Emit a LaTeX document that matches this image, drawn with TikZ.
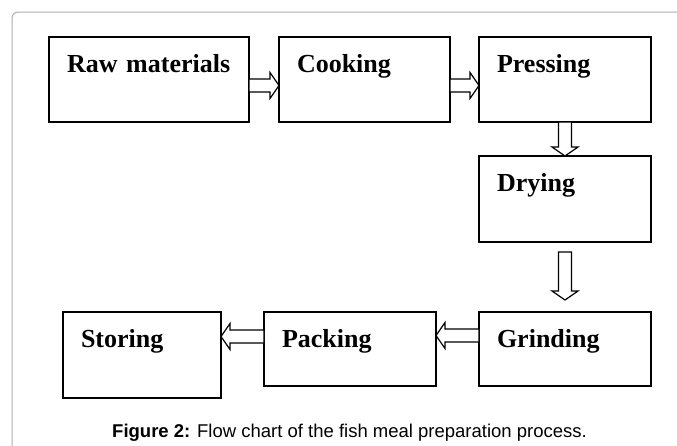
\documentclass[tikz,border=0pt]{standalone}
\usepackage{fontspec}
\setmainfont{Liberation Serif}
\setsansfont{Liberation Sans}
\usepackage{tikz}
\usetikzlibrary{positioning,calc}
\newcommand{\blockarrow}[2]{\path (#1) coordinate (ba-s) (#2)
  coordinate (ba-t) ($(ba-t)!9pt!(ba-s)$) coordinate (ba-h); \draw[hollow]
  ($(ba-s)!6.5pt!90:(ba-t)$) -- ($(ba-h)!6.5pt!-90:(ba-s)$) --
  ($(ba-h)!13pt!-90:(ba-s)$) -- (ba-t) -- ($(ba-h)!13pt!90:(ba-s)$) --
  ($(ba-h)!6.5pt!90:(ba-s)$) -- ($(ba-s)!6.5pt!-90:(ba-t)$) -- cycle;}
\tikzset{
  stepbox/.style={
    draw, line width=1.5pt, outer sep=0pt, inner xsep=18pt,
    inner ysep=0pt, align=left, text height=35pt, text depth=50pt,
    text width=136pt, font=\bfseries\fontsize{26}{28}\selectfont
  },
  hollow/.style={draw, fill=white, line width=1.2pt, line join=miter},
  framebox/.style={draw=black!32, line width=1pt, rounded corners=6pt}
}
\begin{document}
\begin{tikzpicture}[x=1pt,y=1pt]
          \useasboundingbox (0,0) rectangle (677,-445); \draw[framebox]
          (12,-450) -- (12,-12) -- (682,-12);
          \node[stepbox, text width=164pt, anchor=north west] (Raw) at
          (49,-37) {Raw materials}; \node[stepbox, text width=135pt,
          right=30pt of Raw.north east, anchor=north west] (Cook)
          {Cooking}; \node[stepbox, right=29pt of Cook.north east,
          anchor=north west] (Press) {Pressing}; \node[stepbox,
          below=34pt of Press.south, anchor=north, text depth=51pt]
          (Dry) {Drying}; \node[stepbox, below=70pt of Dry.south,
          anchor=north, text depth=39pt] (Grind) {Grinding};
          \node[stepbox, left=43pt of Grind.north west, anchor=north
          east, text depth=39pt] (Pack) {Packing}; \node[stepbox,
          text width=122pt, left=43pt of Pack.north west, anchor=north
          east, text depth=51pt] (Store) {Storing};
          \blockarrow{[yshift=-6pt]Raw.east}{[yshift=-6pt]Cook.west}
          \blockarrow{[yshift=-6pt]Cook.east}{[yshift=-6pt]Press.west}
          \blockarrow{Press.south}{Dry.north}
          \blockarrow{[yshift=-10pt]Dry.south}{[yshift=12pt]Grind.north}
          \blockarrow{[yshift=13.5pt]Grind.west}{[yshift=13.5pt]Pack.east}
          \blockarrow{[yshift=12.5pt]Pack.west}{[yshift=18.5pt]Store.east}
          \node[anchor=base west, inner sep=0pt,
          font=\sffamily\fontsize{18.5}{21}\selectfont] (Caption) at
          (112,-437) {\textbf{Figure 2:} Flow chart of the fish meal
          preparation process.};
        \end{tikzpicture}
\end{document}
